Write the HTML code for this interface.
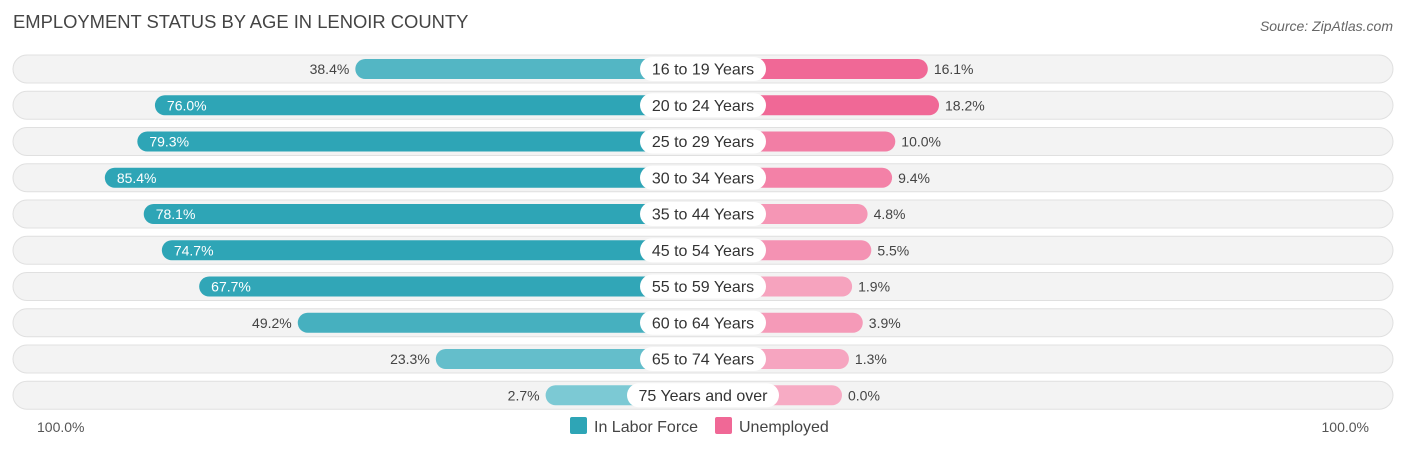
<!DOCTYPE html>
<html><head><meta charset="utf-8">
<style>
body{margin:0;background:#fff;font-family:"Liberation Sans",sans-serif;}
svg text{font-family:"Liberation Sans",sans-serif;}
</style></head>
<body>
<svg id="chart" width="1406" height="451" xmlns="http://www.w3.org/2000/svg">
<text x="13" y="28" font-size="18.4" fill="#444">EMPLOYMENT STATUS BY AGE IN LENOIR COUNTY</text>
<text x="1393" y="31" font-size="14" fill="#666" font-style="italic" text-anchor="end">Source: ZipAtlas.com</text>
<g id="rows"></g>
<text x="37" y="432" font-size="14" fill="#555">100.0%</text>
<text x="1369" y="432" font-size="14" fill="#555" text-anchor="end">100.0%</text>
<g>
<rect x="570" y="417" width="17" height="17" rx="2" fill="#2ea5b6"/>
<text x="594" y="432" font-size="16" fill="#444">In Labor Force</text>
<rect x="715" y="417" width="17" height="17" rx="2" fill="#f06896"/>
<text x="739" y="432" font-size="16" fill="#444">Unemployed</text>
</g>
</svg>
<script>
const categories=["16 to 19 Years","20 to 24 Years","25 to 29 Years","30 to 34 Years","35 to 44 Years","45 to 54 Years","55 to 59 Years","60 to 64 Years","65 to 74 Years","75 Years and over"];
const laborForce=[38.4,76.0,79.3,85.4,78.1,74.7,67.7,49.2,23.3,2.7];
const unemployed=[16.1,18.2,10.0,9.4,4.8,5.5,1.9,3.9,1.3,0.0];

const NS="http://www.w3.org/2000/svg";
const g=document.getElementById("rows");
const cx=703, offL=143, offR=139, scale=5.33, y0=69, dy=36.25;
function xl(v){return cx-offL-v*scale;}
function xr(v){return cx+offR+v*scale;}
function yc(i){return y0+i*dy;}
function mk(tag,attrs){const e=document.createElementNS(NS,tag);for(const k in attrs)e.setAttribute(k,attrs[k]);g.appendChild(e);return e;}
function mix(a,b,t){const p=s=>[1,3,5].map(i=>parseInt(s.substr(i,2),16));const A=p(a),B=p(b);return "rgb("+A.map((v,i)=>Math.round(v+(B[i]-v)*t)).join(",")+")";}
categories.forEach((c,i)=>{
  const y=yc(i);
  const bg=mk("rect",{x:13,y:y-14,width:1380,height:28,rx:14,fill:"#f3f3f3",stroke:"#e0e0e0","stroke-width":1});
  
  
  const lv=laborForce[i], x1=xl(lv);
  const lt=Math.min(1,lv/70);
  const lb=mk("rect",{x:x1,y:y-10,width:cx-x1,height:20,rx:10,fill:mix("#7fcad5","#2ea5b6",lt)});
  
  
  const uv=unemployed[i], x2=xr(uv);
  const ut=Math.min(1,uv/15);
  const ub=mk("rect",{x:cx,y:y-10,width:x2-cx,height:20,rx:10,fill:mix("#f7abc4","#f06896",ut)});
  
  
  const inside=lv>60;
  const lt2=mk("text",{x:inside?x1+12:x1-6,y:y+5,"font-size":14,fill:inside?"#fff":"#444","text-anchor":inside?"start":"end"});
  lt2.textContent=lv.toFixed(1)+"%";
  
  
  const ut2=mk("text",{x:x2+6,y:y+5,"font-size":14,fill:"#444"});
  ut2.textContent=uv.toFixed(1)+"%";
  
  
  const w=c.length>14?152:126;
  const pill=mk("rect",{x:cx-w/2,y:y-12,width:w,height:24,rx:12,fill:"#fff"});
  
  
  const ct=mk("text",{x:cx,y:y+5.5,"font-size":16,fill:"#333","text-anchor":"middle"});
  ct.textContent=c;
  
  
});
</script>
</body></html>
